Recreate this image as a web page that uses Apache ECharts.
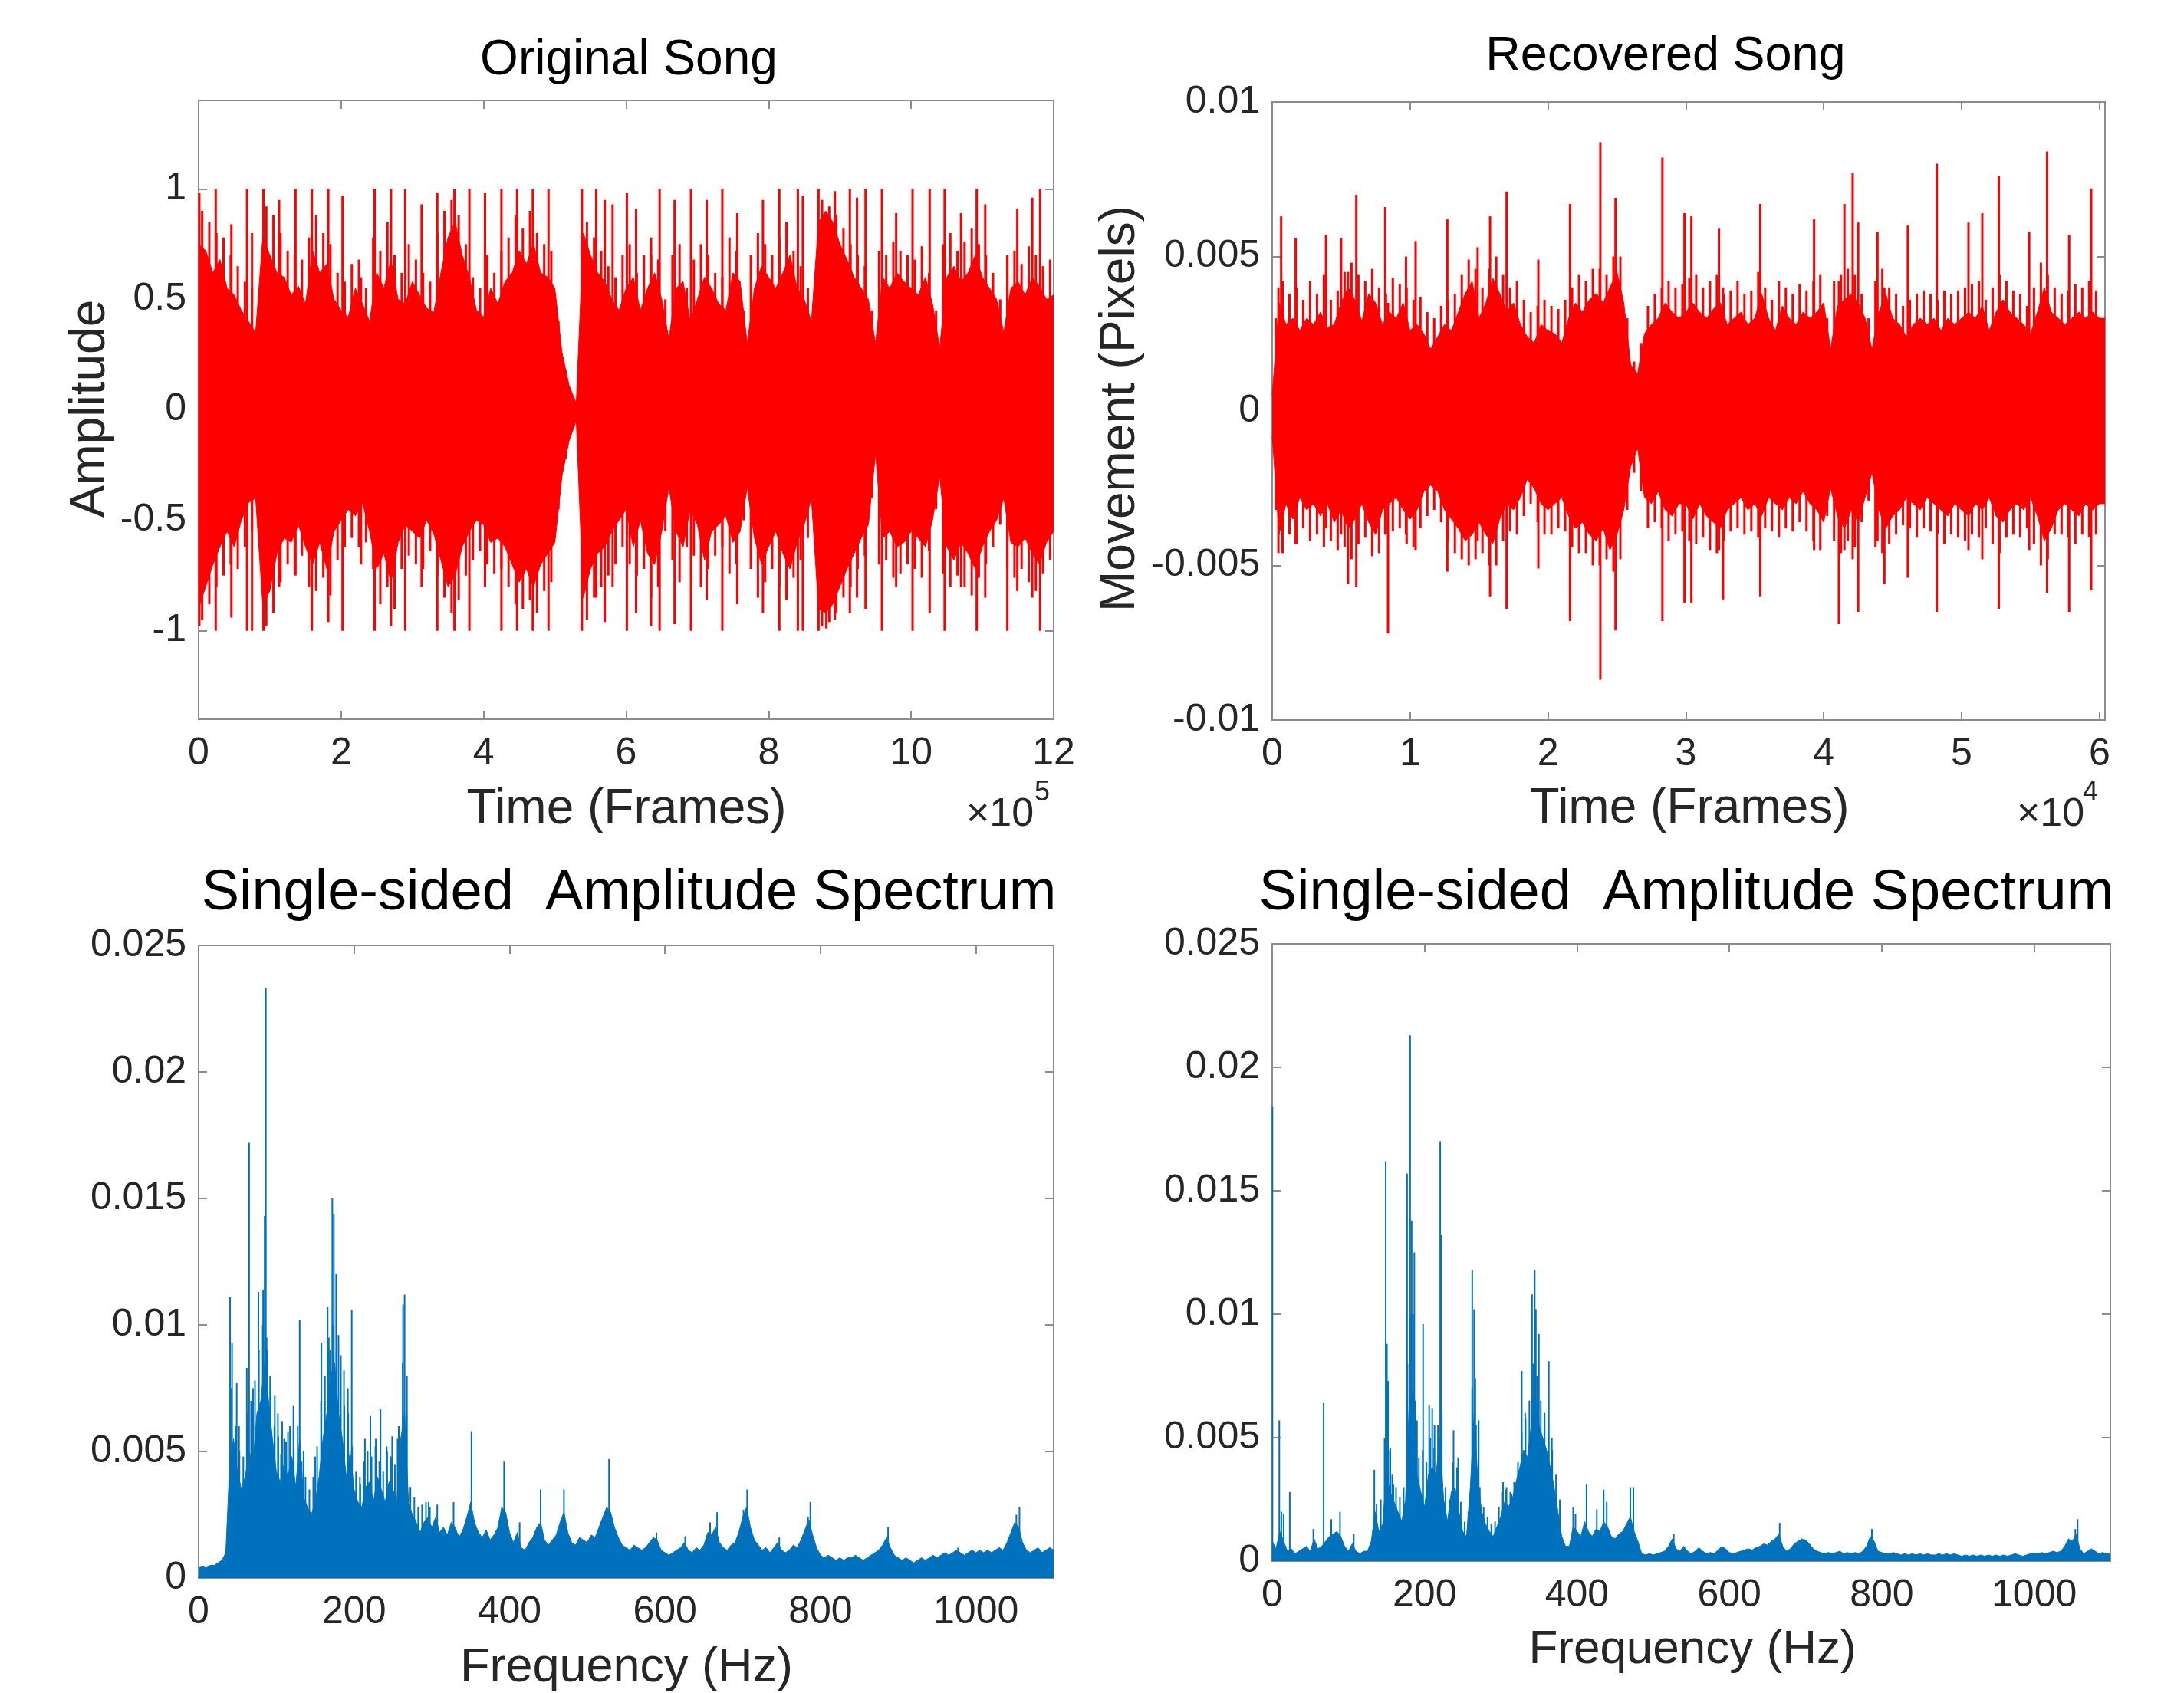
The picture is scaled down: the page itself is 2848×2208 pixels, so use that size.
<!DOCTYPE html>
<html><head><meta charset="utf-8">
<script src="https://cdn.jsdelivr.net/npm/echarts@6/dist/echarts.min.js"></script>
<style>html,body{margin:0;padding:0;background:#fff}#c{width:2848px;height:2208px}</style>
</head><body><div id="c"></div>
<script>
// ---------- Original song waveform (frames step 1e4) ----------
const tlFrameStep = 10000;
const tlCoreUp = [0.75,0.72,0.62,0.68,0.55,0.52,0.45,0.40,0.35,0.78,
0.70,0.62,0.60,0.52,0.56,0.48,0.72,0.62,0.66,0.50,
0.45,0.42,0.55,0.48,0.40,0.62,0.55,0.68,0.50,0.48,
0.58,0.52,0.46,0.44,0.62,0.78,0.85,0.70,0.60,0.45,
0.42,0.55,0.48,0.58,0.62,0.72,0.66,0.75,0.62,0.60,
0.55,0.26,0.11,0.03,0.80,0.70,0.62,0.58,0.50,0.45,
0.55,0.60,0.45,0.55,0.62,0.50,0.32,0.55,0.58,0.40,
0.50,0.60,0.55,0.48,0.45,0.62,0.58,0.30,0.55,0.65,
0.60,0.55,0.62,0.70,0.55,0.50,0.40,0.85,0.90,0.85,
0.75,0.68,0.60,0.55,0.50,0.30,0.60,0.55,0.62,0.58,
0.55,0.52,0.60,0.48,0.28,0.60,0.65,0.58,0.62,0.70,
0.60,0.55,0.50,0.35,0.55,0.58,0.52,0.60,0.56,0.50,0.52];
const tlCoreLo = [-0.90,-0.80,-0.70,-0.62,-0.55,-0.62,-0.50,-0.42,-0.40,-0.88,
-0.82,-0.65,-0.58,-0.60,-0.52,-0.62,-0.70,-0.60,-0.72,-0.55,
-0.50,-0.45,-0.48,-0.42,-0.55,-0.72,-0.65,-0.78,-0.60,-0.52,
-0.55,-0.58,-0.50,-0.56,-0.68,-0.80,-0.75,-0.62,-0.55,-0.50,
-0.52,-0.60,-0.58,-0.62,-0.70,-0.78,-0.72,-0.80,-0.70,-0.65,
-0.60,-0.30,-0.14,-0.05,-0.85,-0.72,-0.65,-0.62,-0.55,-0.50,
-0.45,-0.62,-0.50,-0.65,-0.70,-0.55,-0.35,-0.55,-0.62,-0.45,
-0.52,-0.68,-0.55,-0.52,-0.48,-0.60,-0.55,-0.35,-0.58,-0.70,
-0.62,-0.55,-0.65,-0.72,-0.60,-0.52,-0.40,-0.90,-0.92,-0.88,
-0.80,-0.72,-0.65,-0.58,-0.52,-0.20,-0.58,-0.55,-0.62,-0.60,
-0.55,-0.58,-0.62,-0.50,-0.30,-0.62,-0.68,-0.60,-0.65,-0.72,
-0.62,-0.55,-0.50,-0.40,-0.60,-0.62,-0.58,-0.65,-0.70,-0.60,-0.55];
// fringe spikes half-way between core samples (frame = (i+0.5)*1e4)
const tlMidUp = [0.90,0.85,0.80,0.78,0.70,0.65,0.58,0.55,0.45,0.92,
0.88,0.80,0.72,0.70,0.68,0.78,0.88,0.80,0.75,0.62,
0.58,0.66,0.68,0.55,0.78,0.72,0.85,0.70,0.62,0.75,
0.68,0.62,0.58,0.80,0.90,0.95,0.88,0.75,0.60,0.55,
0.70,0.62,0.72,0.78,0.88,0.82,0.90,0.80,0.75,0.72,
0.40,0.18,0.06,0.02,0.85,0.78,0.72,0.65,0.60,0.70,
0.75,0.62,0.70,0.78,0.68,0.50,0.70,0.75,0.55,0.68,
0.75,0.70,0.62,0.60,0.78,0.72,0.45,0.70,0.80,0.75,
0.70,0.78,0.85,0.72,0.65,0.55,0.15,0.95,0.92,0.88,
0.82,0.75,0.70,0.65,0.45,0.72,0.70,0.76,0.72,0.70,
0.68,0.74,0.62,0.45,0.75,0.80,0.72,0.76,0.82,0.75,
0.70,0.62,0.50,0.70,0.72,0.66,0.74,0.70,0.65,0.68];
const tlMidLo = [-0.95,-0.88,-0.80,-0.75,-0.70,-0.72,-0.62,-0.55,-0.52,-0.98,
-0.92,-0.78,-0.70,-0.74,-0.66,-0.80,-0.82,-0.76,-0.84,-0.68,
-0.62,-0.58,-0.62,-0.60,-0.72,-0.88,-0.80,-0.90,-0.72,-0.66,
-0.70,-0.72,-0.64,-0.75,-0.85,-0.92,-0.86,-0.75,-0.68,-0.64,
-0.70,-0.74,-0.72,-0.80,-0.88,-0.90,-0.86,-0.92,-0.82,-0.78,
-0.45,-0.22,-0.08,-0.03,-0.95,-0.85,-0.80,-0.75,-0.70,-0.62,
-0.70,-0.75,-0.72,-0.85,-0.80,-0.55,-0.68,-0.78,-0.62,-0.66,
-0.80,-0.72,-0.66,-0.62,-0.74,-0.70,-0.50,-0.72,-0.85,-0.78,
-0.72,-0.80,-0.86,-0.76,-0.68,-0.58,-0.20,-0.98,-0.96,-0.92,
-0.85,-0.80,-0.72,-0.66,-0.40,-0.70,-0.68,-0.76,-0.74,-0.70,
-0.72,-0.76,-0.64,-0.45,-0.74,-0.80,-0.75,-0.80,-0.84,-0.76,
-0.70,-0.62,-0.52,-0.72,-0.76,-0.72,-0.78,-0.82,-0.74,-0.68];
// tall spikes, positions in units of 1e5 frames
const tlSpikeAt = [0.01,0.24,0.46,0.68,0.75,0.91,1.13,1.36,1.59,1.82,2.02,2.28,2.47,2.70,2.90,3.13,3.35,3.59,3.80,4.02,4.25,4.47,4.69,4.91,5.38,5.58,5.70,5.81,6.01,6.14,6.35,6.47,6.68,6.91,7.13,7.35,7.56,7.92,8.15,8.41,8.48,8.70,8.81,8.93,9.14,9.24,9.36,9.59,9.79,10.02,10.26,10.47,10.70,10.92,11.04,11.35,11.49,11.70,11.81];
const tlSpikeUp = [0.98,1.0,0.84,1.0,0.8,1.0,0.95,1.0,1.0,1.0,0.97,0.6,1.0,1.0,1.0,0.93,0.98,1.0,1.0,0.98,1.0,1.0,1.0,1.0,1.0,1.0,0.95,0.93,0.98,0.91,0.7,1.0,0.95,1.0,0.95,1.0,0.89,0.95,1.0,1.0,0.97,1.0,0.8,0.99,1.0,0.96,1.0,1.0,0.89,1.0,1.0,1.0,0.89,1.0,0.93,0.7,0.91,0.96,1.0];
const tlSpikeLo = [-0.98,-1.0,-0.94,-1.0,-1.0,-1.0,-0.8,-0.75,-1.0,-0.96,-1.0,-0.7,-1.0,-0.98,-1.0,-0.8,-1.0,-1.0,-1.0,-0.8,-1.0,-1.0,-1.0,-1.0,-1.0,-0.85,-0.96,-0.8,-1.0,-0.92,-0.98,-1.0,-0.97,-1.0,-0.86,-1.0,-0.88,-0.92,-1.0,-1.0,-1.0,-1.0,-0.99,-0.95,-0.92,-0.85,-0.9,-1.0,-0.8,-1.0,-0.92,-1.0,-0.8,-1.0,-0.85,-1.0,-0.82,-0.85,-1.0];
const tlXTicks = [0,200000,400000,600000,800000,1000000,1200000];
const tlYTicks = [-1,-0.5,0,0.5,1];

// ---------- Recovered song waveform (frames step 500, values x1e-3 px) ----------
const trFrameStep = 500;
const trFrameMax = 60400;
const trCoreUp = [0.5,3.5,2.8,3.0,2.6,3.0,2.8,3.2,2.7,2.8,
3.5,4.0,3.6,2.9,3.8,3.5,2.8,3.2,3.0,3.5,
2.6,2.8,2.5,2.0,2.4,2.8,2.6,3.2,3.8,4.2,
3.0,3.5,4.3,3.8,3.2,3.5,2.8,2.4,2.2,2.8,
2.6,2.5,2.2,3.0,3.5,3.2,3.6,3.8,3.5,4.0,
4.5,3.5,1.5,1.2,2.5,2.8,3.0,3.5,3.2,3.0,
3.2,3.5,3.2,3.0,3.3,3.5,2.8,3.0,3.2,2.8,
3.0,3.8,3.0,2.6,3.4,3.0,2.8,3.2,3.0,3.2,
3.5,2.0,3.4,3.6,3.8,3.5,3.0,2.0,3.2,3.8,
3.0,2.8,2.4,2.8,3.0,2.8,3.0,2.6,3.0,2.8,
3.0,3.2,3.0,3.4,2.6,3.2,3.6,3.2,3.0,2.8,
2.5,3.2,4.0,3.2,3.0,2.8,3.0,3.2,3.0,3.2,3.0,3.0];
const trCoreLo = [-0.8,-4.0,-3.0,-3.5,-2.8,-3.2,-3.0,-3.4,-3.0,-3.6,
-3.2,-3.8,-3.5,-3.0,-3.6,-4.0,-3.2,-3.0,-2.8,-3.2,
-3.5,-3.2,-2.6,-2.4,-2.6,-3.2,-3.5,-3.8,-4.2,-4.0,
-3.6,-4.0,-4.3,-3.5,-3.0,-3.2,-2.8,-2.2,-2.5,-3.0,
-3.2,-3.0,-2.8,-3.4,-3.8,-3.6,-4.0,-4.2,-3.8,-4.5,
-4.0,-3.2,-1.8,-1.2,-2.8,-3.0,-2.6,-3.2,-3.4,-3.0,
-3.0,-3.5,-3.0,-3.4,-3.6,-3.8,-3.2,-3.0,-2.8,-3.2,
-3.0,-3.4,-2.8,-3.0,-3.2,-2.8,-3.0,-2.6,-3.0,-3.2,
-3.6,-2.5,-3.4,-3.8,-3.2,-3.6,-2.8,-2.0,-3.2,-3.8,
-3.4,-3.2,-2.8,-3.0,-3.2,-2.8,-3.0,-3.2,-3.4,-3.0,
-3.2,-3.4,-3.0,-3.2,-2.8,-3.4,-3.6,-3.2,-3.0,-3.2,
-2.8,-3.4,-4.2,-3.8,-3.2,-3.0,-3.2,-3.4,-3.0,-3.2,-3.0,-3.0];
// fringe spikes at frame (i+0.5)*500
const trMidUp = [3.0,4.2,3.8,4.0,3.6,4.2,3.8,4.4,3.6,3.9,
4.5,4.8,4.4,4.2,4.6,4.0,3.8,4.3,4.1,4.0,
3.6,3.7,3.2,3.0,3.4,3.6,3.8,4.4,4.9,4.6,
4.0,4.6,5.0,4.4,4.0,4.2,3.6,3.2,3.4,3.6,
3.4,3.3,3.6,4.0,4.4,4.2,4.6,4.6,4.4,5.0,
5.0,3.0,1.6,2.2,3.4,3.8,4.0,4.2,4.0,4.1,
4.3,4.4,4.0,4.2,4.4,3.8,3.9,4.2,3.8,3.9,
4.5,4.0,3.6,4.2,4.0,3.8,4.1,3.9,4.2,4.4,
3.0,4.2,4.4,4.6,4.4,3.8,3.0,4.2,4.6,4.0,
3.8,3.4,3.6,3.8,3.9,3.8,3.6,3.9,3.8,3.9,
4.0,4.1,4.2,3.6,4.0,4.4,4.2,3.9,3.8,3.4,
4.0,4.8,4.4,4.0,3.8,3.9,4.1,4.0,4.2,3.9];
const trMidLo = [-3.2,-4.6,-4.0,-4.3,-3.8,-4.2,-4.0,-4.4,-4.2,-4.5,
-4.4,-4.8,-4.3,-4.1,-4.7,-4.6,-4.0,-3.9,-3.8,-4.3,
-4.4,-3.8,-3.4,-3.2,-3.6,-4.2,-4.6,-4.8,-5.0,-4.8,
-4.6,-5.0,-5.0,-4.2,-3.9,-4.0,-3.4,-3.0,-3.6,-4.0,
-4.0,-3.8,-3.9,-4.4,-4.6,-4.6,-5.0,-5.0,-4.8,-5.2,
-4.8,-3.2,-2.0,-2.6,-3.8,-3.6,-3.8,-4.2,-4.0,-3.9,
-4.2,-4.3,-4.1,-4.5,-4.6,-4.2,-3.9,-3.8,-4.0,-3.9,
-4.1,-3.8,-3.9,-4.1,-3.8,-3.9,-3.6,-3.9,-4.2,-4.5,
-3.4,-4.2,-4.6,-4.2,-4.4,-3.6,-2.9,-4.4,-4.6,-4.3,
-4.0,-3.7,-3.8,-4.1,-3.8,-3.9,-4.0,-4.3,-4.0,-4.1,
-4.2,-4.0,-4.1,-3.8,-4.3,-4.6,-4.1,-4.0,-4.1,-3.8,
-4.3,-5.0,-4.8,-4.0,-4.0,-4.1,-4.3,-4.0,-4.1,-4.0];
// tall spikes, positions in units of 1e4 frames, values x1e-3
const trSpikeAt = [0.045,0.065,0.17,0.39,0.50,0.55,0.61,0.82,0.84,0.97,1.04,1.27,1.49,1.58,1.70,1.93,2.16,2.38,2.49,2.83,2.99,3.04,3.24,3.27,3.54,3.93,4.11,4.15,4.21,4.25,4.39,4.44,4.61,4.82,5.05,5.15,5.27,5.49,5.62,5.78,5.94];
const trSpikeUp = [4.0,6.3,5.6,5.7,5.6,4.5,7.0,6.6,3.5,5.0,5.5,6.2,5.3,6.3,7.1,4.9,6.7,8.7,6.9,8.2,6.4,6.3,5.9,4.0,6.7,6.2,4.2,6.7,7.7,6.1,5.8,4.0,6.0,8.0,6.1,6.4,7.6,5.8,8.4,5.7,7.2];
const trSpikeLo = [-4.6,-3.5,-4.3,-3.8,-4.0,-5.6,-5.7,-4.0,-7.2,-4.0,-4.5,-5.2,-4.2,-6.0,-6.4,-5.1,-6.8,-8.7,-7.1,-6.8,-6.2,-6.2,-4.5,-6.1,-6.0,-4.5,-6.9,-4.5,-4.8,-6.5,-4.2,-5.6,-5.4,-6.5,-4.5,-4.8,-6.4,-4.5,-5.9,-6.5,-5.8];
const trXTicks = [0,10000,20000,30000,40000,50000,60000];

// ---------- Spectra (5 Hz step, values x1e-3) ----------
const specStep = 5;
const blEnv = [0.4,0.45,0.4,0.5,0.5,0.6,0.7,1.0,4.5,5.5,4.2,3.5,4.0,5.0,4.5,6.5,7.0,8.5,7.0,5.5,
4.2,3.8,4.5,4.0,4.8,3.6,5.5,3.2,2.8,2.5,3.0,4.0,5.5,6.5,8.0,8.5,6.5,5.5,4.0,5.0,
3.5,3.0,2.8,3.6,3.8,3.0,4.0,3.5,3.0,3.8,3.5,3.0,5.5,6.5,3.0,2.5,2.2,1.8,2.2,2.4,
2.0,2.4,1.8,2.0,1.7,2.2,2.0,1.6,1.9,2.4,3.0,2.2,1.8,1.6,1.9,1.5,1.7,2.0,2.8,2.6,
1.8,1.4,1.8,1.2,1.1,1.4,1.6,2.0,2.2,1.5,1.3,1.5,1.7,2.2,2.6,1.8,1.4,1.3,1.6,1.5,
1.4,1.7,1.6,2.0,2.4,2.8,2.6,2.0,1.6,1.3,1.2,1.1,1.3,1.2,1.1,1.2,1.4,1.6,1.5,1.1,
1.0,0.9,1.0,1.1,1.2,1.4,1.1,1.0,1.2,1.1,1.3,1.8,1.7,2.0,1.4,1.2,1.1,1.3,1.4,1.8,
2.4,2.8,2.0,1.5,1.3,1.1,1.2,1.0,1.2,1.4,1.1,1.0,1.1,1.3,1.2,1.5,1.9,2.3,1.7,1.2,
0.9,0.8,0.9,0.8,0.7,0.8,0.7,0.8,0.8,0.9,0.8,0.7,0.8,0.9,1.0,1.1,1.3,1.6,1.2,0.9,
0.8,0.7,0.8,0.7,0.6,0.7,0.8,0.7,0.8,0.9,0.8,0.9,1.0,0.9,1.0,1.1,1.0,0.9,1.0,1.1,
1.0,1.1,1.0,1.1,1.0,1.1,1.2,1.1,1.4,1.8,2.2,2.0,1.4,1.1,1.0,1.1,1.2,1.0,1.1,1.2,
1.1];
// dense-band fringe, at 42.5 Hz + 5 Hz steps
const blMidStart = 42.5;
const blMid = [7.5,6.0,5.0,4.8,6.5,7.0,7.8,9.0,10.0,9.5,
7.5,6.0,5.6,6.2,5.4,6.0,5.0,6.0,4.6,4.0,
3.5,4.0,5.2,7.0,8.0,9.5,10.0,9.0,7.5,6.8,
6.5,5.2,4.2,4.0,4.6,5.0,4.8,5.2,4.6,4.2,
5.0,4.8,4.5,6.0,8.5,6.5,3.6,3.2,2.8,2.9,3.0,2.8];
const blPeakHz = [40.5,43,49,62,65,77,83,85,86.5,88,98,106,115,122,130,158,166,172,174,180,187,197,208,221,234,249,263,265,296,307,328,351,393,413,440,470,528,589,626,658,667,701,705.7,747,784,787,887,977,1052,1056,
52,70,92,102,110,135,150,162,169,177,183,192,214,228,242,256,268];
const blPeakAmp = [11.1,9.3,7.7,8.3,17.2,11.3,11.4,14.3,23.3,9.0,7.2,4.9,5.8,6.8,10.2,9.3,10.7,15.0,14.4,9.6,8.2,10.6,3.7,6.4,6.7,5.6,10.8,11.2,3.0,2.9,3.0,5.8,4.6,2.2,3.5,3.5,4.7,1.8,1.65,2.2,2.6,2.7,3.5,1.6,2.4,3.0,2.0,1.2,2.5,2.8,
6.0,7.5,8.0,6.5,5.5,5.0,4.8,7.0,9.0,12.0,8.8,7.5,5.5,5.5,5.2,5.5,8.0];
const brEnv = [0.8,0.5,1.2,0.8,0.4,0.5,0.3,0.4,0.5,0.6,0.4,0.9,0.5,0.6,0.8,1.0,1.1,1.2,1.0,0.6,
0.4,0.7,0.4,0.3,0.4,0.4,0.8,2.0,1.2,1.5,3.5,2.8,2.4,2.0,1.6,2.5,6.5,7.0,3.5,2.8,
2.2,3.5,3.8,3.5,5.0,2.5,1.6,2.8,3.0,2.0,1.2,1.0,3.0,6.0,3.2,2.0,1.5,1.2,1.0,1.4,
1.8,2.4,2.2,2.5,3.2,3.8,4.5,4.2,5.5,6.5,5.5,5.0,4.5,3.8,3.0,2.0,1.0,0.6,0.6,1.4,
1.2,1.0,1.6,1.2,1.0,1.3,1.2,1.6,1.4,1.0,0.9,1.1,1.2,1.5,1.8,1.2,0.8,0.3,0.25,0.3,
0.25,0.3,0.35,0.4,0.6,0.9,0.5,0.4,0.6,0.4,0.3,0.4,0.55,0.4,0.3,0.35,0.3,0.45,0.6,0.5,
0.35,0.3,0.35,0.4,0.45,0.5,0.45,0.55,0.6,0.7,0.65,0.8,0.9,1.1,0.6,0.4,0.5,0.7,0.8,0.9,
0.85,0.7,0.5,0.4,0.35,0.3,0.35,0.3,0.35,0.4,0.3,0.35,0.3,0.35,0.3,0.4,0.6,1.0,0.8,0.4,
0.35,0.3,0.3,0.35,0.3,0.25,0.3,0.25,0.3,0.25,0.3,0.25,0.3,0.25,0.25,0.3,0.25,0.3,0.25,0.3,
0.25,0.2,0.25,0.2,0.25,0.2,0.25,0.2,0.25,0.2,0.25,0.2,0.25,0.2,0.25,0.3,0.25,0.2,0.25,0.3,
0.3,0.3,0.35,0.3,0.35,0.4,0.35,0.4,0.6,0.9,0.8,1.1,0.5,0.3,0.4,0.5,0.4,0.3,0.35,0.3,
0.3];
const brMidStart = 142.5;
const brMid = [2.5,5.0,4.5,3.5,3.0,2.6,3.0,8.0,10.0,6.5,
4.2,4.5,4.0,5.0,4.6,5.5,6.0,3.0,2.5,4.0,
3.8,2.4,1.6,2.0,7.0,5.5,3.0,2.2,1.8,1.5,
1.6,2.2,2.8,3.0,2.8,3.2,4.0,5.2,5.8,6.5,
8.0,7.5,6.5,6.0,5.5,4.5,3.5,2.5];
const brPeakHz = [0.3,9.3,12,15,23,54,67.5,77.5,89,107,134,137,149,150.5,152,155,159,177,181,183,185,186.5,190,198,206,210,213,220.5,221.5,238,244,262.5,265,266.5,271,303,307,314,327.5,332,341,344.5,346,350,363,367,395,398,412.5,426,435,439,470,474,527,666,787,1054,1057];
const brPeakAmp = [18.4,5.7,2.0,1.9,2.8,1.3,6.4,1.7,2.0,1.1,3.7,2.3,16.2,8.8,7.3,4.6,3.1,15.7,21.3,13.8,10.0,12.5,5.7,9.6,6.3,6.2,5.5,17.0,13.2,5.3,4.2,11.8,10.2,7.4,5.7,3.2,2.9,2.7,7.7,6.0,10.8,11.8,10.2,9.2,8.1,5.0,2.2,1.9,3.1,2.1,2.9,2.4,3.0,3.0,1.1,1.55,1.3,1.3,1.7];
const specXTicks = [0,200,400,600,800,1000];

// ---------- build ----------
const RED = '#ff0000', BLUE = '#0072bd';
const FONT = "'Liberation Sans', Arial, Helvetica, sans-serif";
const AX = '#8c8c8c', TXT = '#262626';

const tlX = i => i * tlFrameStep;
const trX = i => Math.min(i * trFrameStep, trFrameMax);
const tlUpPts = tlCoreUp.map((v, i) => [tlX(i), v]);
const tlLoPts = tlCoreLo.map((v, i) => [tlX(i), v]);
const tlFringe = tlMidUp.map((v, i) => [(i + 0.5) * tlFrameStep, v]).concat(tlMidLo.map((v, i) => [(i + 0.5) * tlFrameStep, v]));
const tlSpikes = tlSpikeAt.map((f, i) => [f * 1e5, tlSpikeUp[i]]).concat(tlSpikeAt.map((f, i) => [f * 1e5, tlSpikeLo[i]]));
const trUpPts = trCoreUp.map((v, i) => [trX(i), v / 1000]);
const trLoPts = trCoreLo.map((v, i) => [trX(i), v / 1000]);
const trFringe = trMidUp.map((v, i) => [(i + 0.5) * trFrameStep, v / 1000]).concat(trMidLo.map((v, i) => [(i + 0.5) * trFrameStep, v / 1000]));
const trSpikes = trSpikeAt.map((f, i) => [f * 1e4, trSpikeUp[i] / 1000]).concat(trSpikeAt.map((f, i) => [f * 1e4, trSpikeLo[i] / 1000]));
const blPts = blEnv.map((v, i) => [i * specStep, v / 1000]);
const blSpk = blPeakHz.map((f, i) => [f, blPeakAmp[i] / 1000]).concat(blMid.map((v, i) => [blMidStart + i * specStep, v / 1000]));
const brPts = brEnv.map((v, i) => [i * specStep, v / 1000]);
const brSpk = brPeakHz.map((f, i) => [f, brPeakAmp[i] / 1000]).concat(brMid.map((v, i) => [brMidStart + i * specStep, v / 1000]));

const grids = [
  {left: 259, top: 131, width: 1115, height: 807},
  {left: 1659, top: 133, width: 1086, height: 806},
  {left: 259, top: 1233, width: 1115, height: 825},
  {left: 1659, top: 1231, width: 1093, height: 805}
];

function axisPair(kind, g, min, max, ticks, fmt, interval) {
  const main = {
    type: 'value', gridIndex: g, min, max,
    position: kind === 'x' ? 'bottom' : 'left',
    axisLine: {show: true, onZero: false, lineStyle: {color: AX, width: 2}},
    axisTick: {show: true, inside: true, length: 11, lineStyle: {color: AX, width: 2}},
    axisLabel: {show: true, margin: kind === 'x' ? 20 : 16, fontSize: 50, fontFamily: FONT, color: TXT},
    splitLine: {show: false}
  };
  const twin = {
    type: 'value', gridIndex: g, min, max,
    position: kind === 'x' ? 'top' : 'right',
    axisLine: {show: true, onZero: false, lineStyle: {color: AX, width: 2}},
    axisTick: {show: true, inside: true, length: 11, lineStyle: {color: AX, width: 2}},
    axisLabel: {show: false},
    splitLine: {show: false}
  };
  if (ticks) {
    main.axisTick.customValues = ticks; main.axisLabel.customValues = ticks;
    twin.axisTick.customValues = ticks; twin.axisLabel.customValues = ticks;
  }
  if (interval) { main.interval = interval; twin.interval = interval; }
  if (fmt) main.axisLabel.formatter = fmt;
  return [main, twin];
}

const xAxis = [].concat(
  axisPair('x', 0, 0, 1200000, tlXTicks, v => String(Math.round(v / 1e5))),
  axisPair('x', 1, 0, trFrameMax, trXTicks, v => String(Math.round(v / 1e4))),
  axisPair('x', 2, 0, 1100, specXTicks, v => String(v)),
  axisPair('x', 3, 0, 1100, specXTicks, v => String(v))
);
const yAxis = [].concat(
  axisPair('y', 0, -1.4, 1.4, tlYTicks, v => String(v)),
  axisPair('y', 1, -0.01, 0.01, null, v => String(v), 0.005),
  axisPair('y', 2, 0, 0.025, null, v => String(v), 0.005),
  axisPair('y', 3, 0, 0.025, null, v => String(v), 0.005)
);

// area filled toward a baseline value (slightly past zero so the two halves overlap)
function area(g, pts, color, base) {
  return {type: 'line', xAxisIndex: 2 * g, yAxisIndex: 2 * g, data: pts, symbol: 'none', showSymbol: false,
    lineStyle: {color, width: 1}, areaStyle: {color, opacity: 1, origin: base}, silent: true, animation: false};
}
function spikes(g, pts, color, w) {
  return {type: 'bar', xAxisIndex: 2 * g, yAxisIndex: 2 * g, data: pts, barWidth: w,
    itemStyle: {color}, silent: true, animation: false};
}

function txt(text, x, y, size, opts) {
  return Object.assign({type: 'text', x, y, silent: true,
    style: {text, font: size + 'px ' + FONT, fill: (opts && opts.fill) || '#000',
      align: (opts && opts.align) || 'center', verticalAlign: 'middle'}},
    (opts && opts.rot) ? {rotation: Math.PI / 2} : {});
}

const option = {
  backgroundColor: '#fff',
  animation: false,
  grid: grids,
  xAxis, yAxis,
  series: [
    area(0, tlUpPts, RED, -0.02), area(0, tlLoPts, RED, 0.02),
    spikes(0, tlFringe.concat(tlSpikes), RED, 3),
    area(1, trUpPts, RED, -0.0002), area(1, trLoPts, RED, 0.0002),
    spikes(1, trFringe.concat(trSpikes), RED, 3),
    area(2, blPts, BLUE, 'auto'), spikes(2, blSpk, BLUE, 2),
    area(3, brPts, BLUE, 'auto'), spikes(3, brSpk, BLUE, 2)
  ],
  graphic: [
    txt('Original Song', 820, 79, 64),
    txt('Recovered Song', 2172, 74, 63),
    txt('Time (Frames)', 817, 1056, 64, {fill: TXT}),
    txt('Time (Frames)', 2203, 1055, 64, {fill: TXT}),
    txt('\u00d710', 1260, 1063, 52, {align: 'left', fill: TXT}),
    txt('5', 1349, 1034, 36, {align: 'left', fill: TXT}),
    txt('\u00d710', 2630, 1063, 52, {align: 'left', fill: TXT}),
    txt('4', 2716, 1034, 36, {align: 'left', fill: TXT}),
    txt('Amplitude', 118, 533, 64, {rot: true, fill: TXT}),
    txt('Movement (Pixels)', 1461, 533, 64, {rot: true, fill: TXT}),
    txt('Single-sided  Amplitude Spectrum', 820, 1166, 74),
    txt('Single-sided  Amplitude Spectrum', 2199, 1166, 74),
    txt('Frequency (Hz)', 817, 2176, 63, {fill: TXT}),
    txt('Frequency (Hz)', 2207, 2152, 62, {fill: TXT})
  ]
};

const chart = echarts.init(document.getElementById('c'), null, {renderer: 'canvas', width: 2848, height: 2208});
chart.setOption(option);
</script>
</body></html>
